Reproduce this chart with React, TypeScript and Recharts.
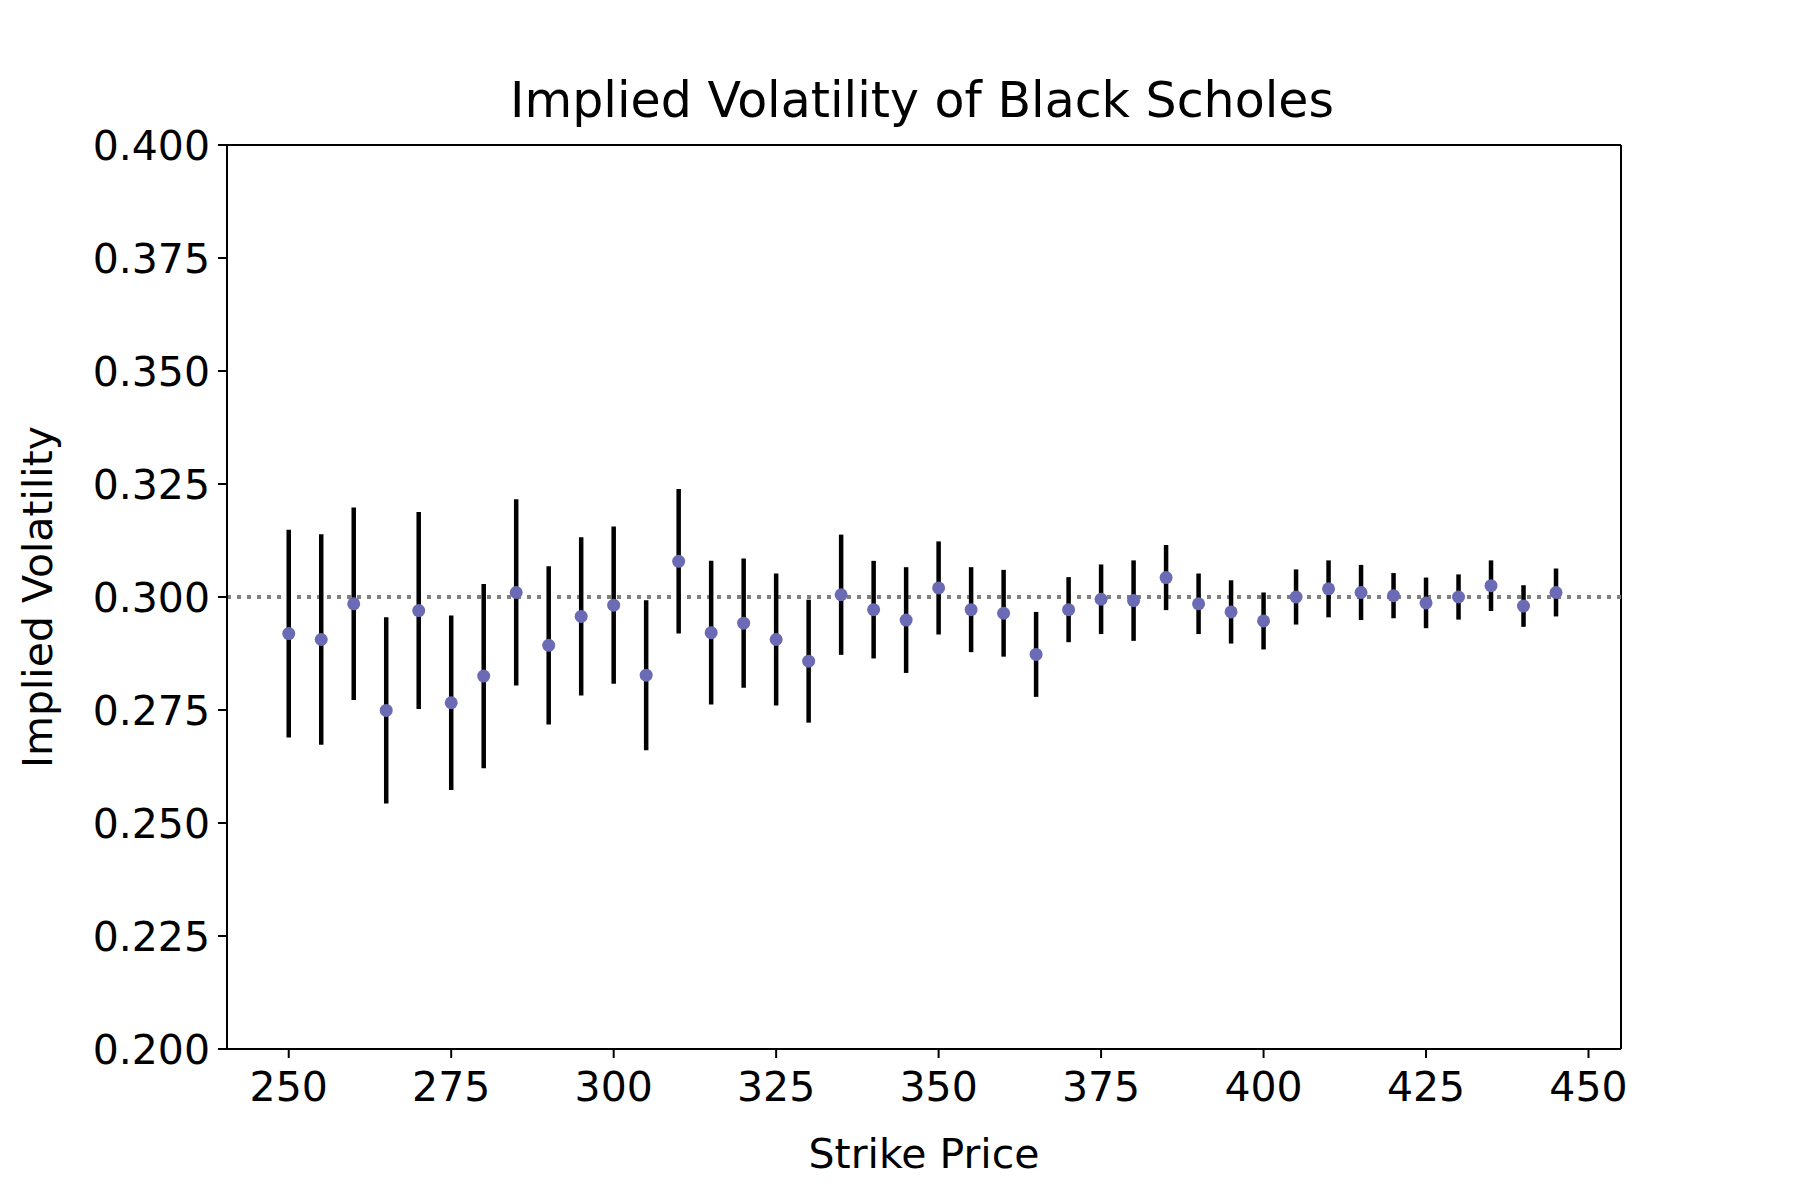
import { ScatterChart, Scatter, XAxis, YAxis, ErrorBar, ReferenceLine } from "recharts";

const strikes = [250,255,260,265,270,275,280,285,290,295,300,305,310,315,320,325,330,335,340,345,350,355,360,365,370,375,380,385,390,395,400,405,410,415,420,425,430,435,440,445];
const vols = [0.2919,0.2906,0.2985,0.2749,0.2970,0.2766,0.2825,0.3010,0.2893,0.2957,0.2982,0.2827,0.3079,0.2921,0.2942,0.2906,0.2858,0.3005,0.2972,0.2949,0.3020,0.2972,0.2964,0.2873,0.2972,0.2995,0.2992,0.3043,0.2985,0.2967,0.2947,0.3000,0.3018,0.3010,0.3003,0.2987,0.3000,0.3025,0.2980,0.3010];
const errs = [0.0230,0.0233,0.0213,0.0206,0.0218,0.0193,0.0204,0.0206,0.0175,0.0175,0.0174,0.0166,0.0160,0.0159,0.0143,0.0146,0.0136,0.0133,0.0108,0.0117,0.0103,0.0094,0.0096,0.0094,0.0072,0.0077,0.0089,0.0072,0.0067,0.0070,0.0063,0.0061,0.0063,0.0061,0.0050,0.0056,0.0050,0.0056,0.0046,0.0053];
const xTicks = [250,275,300,325,350,375,400,425,450];
const yTicks = [0.2,0.225,0.25,0.275,0.3,0.325,0.35,0.375,0.4];

const data = strikes.map((s, i) => ({ strike: s, vol: vols[i], err: errs[i] }));
const font = "DejaVu Sans";
const tick = { fontSize: 41, fill: "#000", fontFamily: font };
const line = { stroke: "#000", strokeWidth: 2 };

export default function App() {
  return (
    <div style={{ position: "absolute", left: 0, top: 0, width: 1800, height: 1200, background: "#fff" }}>
      <div style={{ position: "absolute", top: 72, width: "100%", textAlign: "center", left: 22, fontFamily: font, fontSize: 49 }}>
        Implied Volatility of Black Scholes
      </div>
      <ScatterChart width={1800} height={1200} margin={{ top: 145, right: 179, bottom: 32, left: 37 }}>
        <XAxis type="number" dataKey="strike" domain={[240.5, 455]} ticks={xTicks} allowDataOverflow
          tick={tick} tickSize={9} tickMargin={14} axisLine={line} tickLine={line} height={119}
          label={{ value: "Strike Price", position: "insideBottom", offset: 0, style: { fontSize: 41, fill: "#000", fontFamily: font } }} />
        <YAxis type="number" dataKey="vol" domain={[0.2, 0.4]} ticks={yTicks} allowDataOverflow
          tickFormatter={(v: number) => v.toFixed(3)} tick={tick} tickSize={9} tickMargin={8}
          axisLine={line} tickLine={line} width={190}
          label={{ value: "Implied Volatility", angle: -90, position: "insideLeft", offset: 0, style: { fontSize: 41, fill: "#000", fontFamily: font, textAnchor: "middle" } }} />
        <ReferenceLine y={0.4} stroke="#000" strokeWidth={2} />
        <ReferenceLine x={455} stroke="#000" strokeWidth={2} />
        <ReferenceLine y={0.3} stroke="#808080" strokeWidth={4} strokeDasharray="4 6" />
        <Scatter data={data} isAnimationActive={false} fill="#6a6ab5"
          shape={(p: any) => <circle cx={p.cx} cy={p.cy} r={6.5} fill="#6a6ab5" />}>
          <ErrorBar dataKey="err" direction="y" width={0} stroke="#000" strokeWidth={4.5} />
        </Scatter>
      </ScatterChart>
    </div>
  );
}
